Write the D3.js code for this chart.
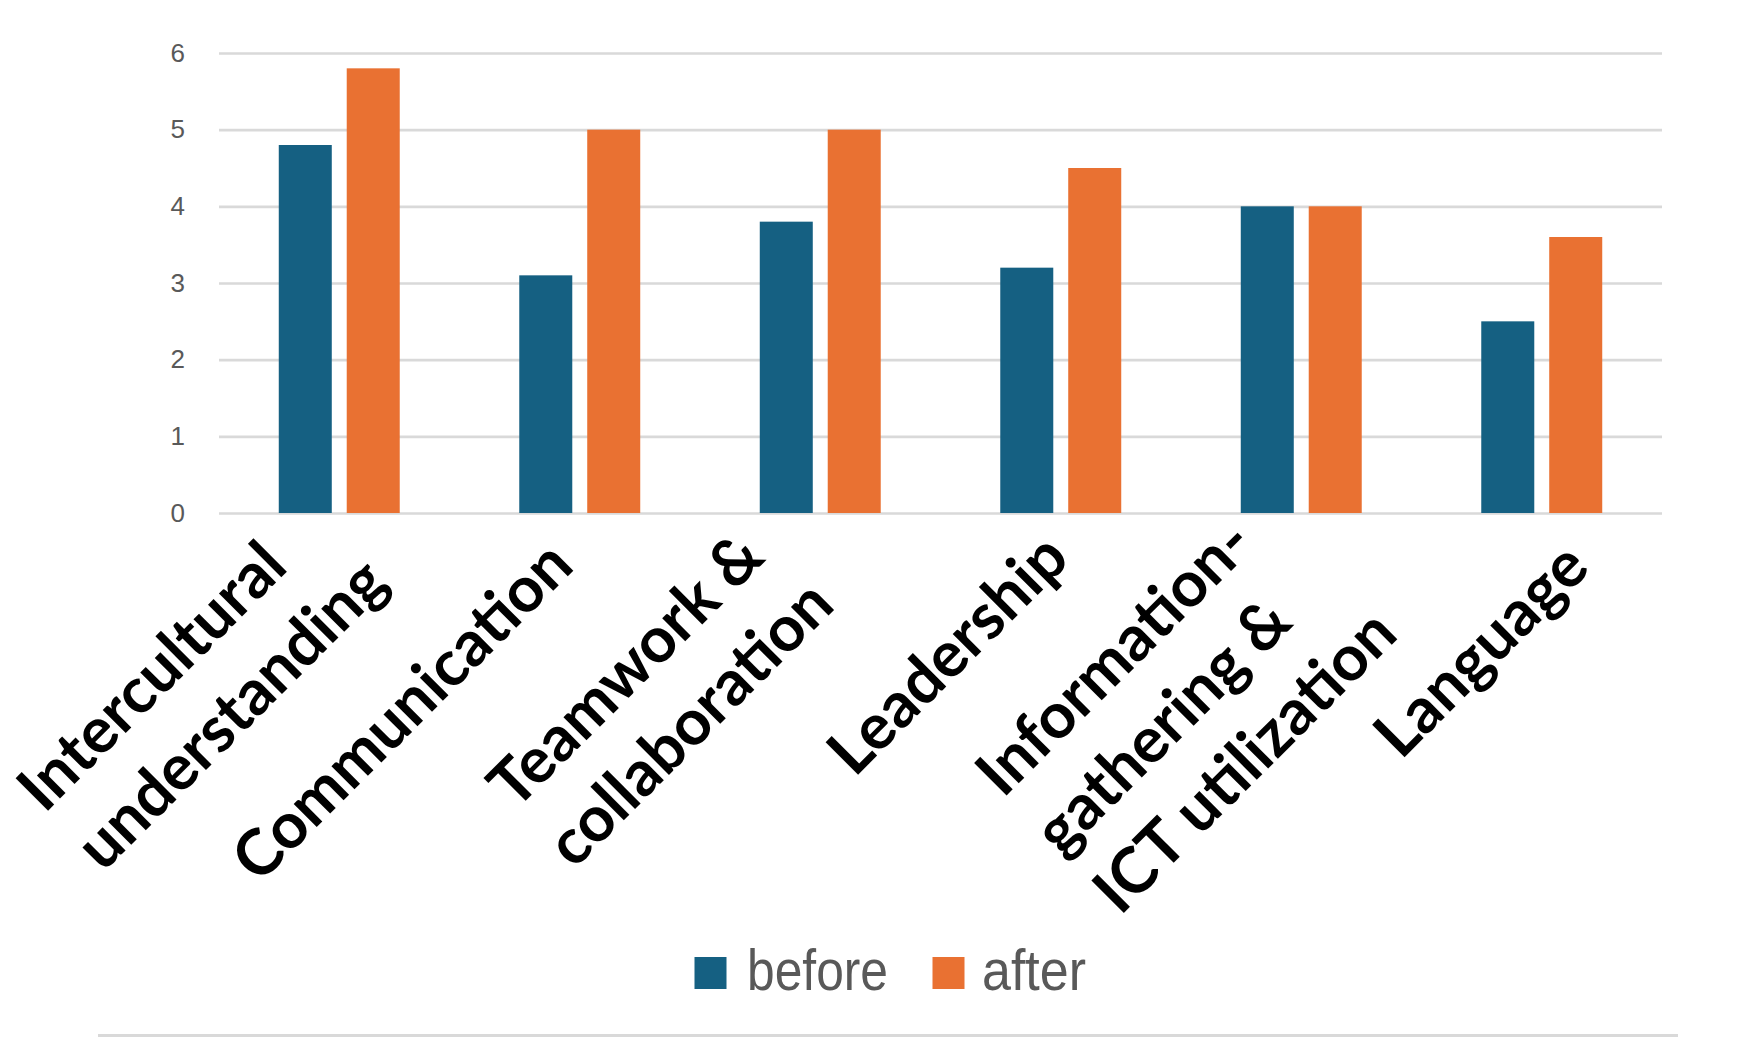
<!DOCTYPE html>
<html>
<head>
<meta charset="utf-8">
<script src="https://cdn.jsdelivr.net/npm/d3@7"></script>
<style>
  html, body { margin: 0; padding: 0; background: #ffffff; }
  svg { display: block; }
</style>
</head>
<body>
<svg id="chart" width="1752" height="1053"></svg>
<script>
// ---- data ----
const categories = [
  "Intercultural\nunderstanding",
  "Communication",
  "Teamwork &\ncollaboration",
  "Leadership",
  "Information-\ngathering &\nICT utilization",
  "Language"
];
const seriesNames = ["before", "after"];
const beforeValues = [4.8, 3.1, 3.8, 3.2, 4.0, 2.5];
const afterValues  = [5.8, 5.0, 5.0, 4.5, 4.0, 3.6];
const yTicks = [0, 1, 2, 3, 4, 5, 6];

// ---- layout ----
const W = 1752, H = 1053;
const plot = { left: 219, right: 1662, top: 53, bottom: 513 };
const colors = { before: "#156082", after: "#E97132" };
const gridColor = "#d9d9d9";
const tickColor = "#595959";
// small per-label screen nudges (label placement in the original is irregular)
const labelNudge = [[22, -9], [-4, 3], [-13, 13], [11, -4], [40, 13], [50, 5]];

const svg = d3.select("#chart");

const rows = categories.map((c, i) => ({ cat: c, before: beforeValues[i], after: afterValues[i] }));

const x0 = d3.scaleBand()
  .domain(categories)
  .range([plot.left, plot.right])
  .paddingInner(0.497)
  .paddingOuter(0.2485);

const x1 = d3.scaleBand()
  .domain(seriesNames)
  .range([0, x0.bandwidth()])
  .paddingInner(0.22);

const y = d3.scaleLinear().domain([0, 6]).range([plot.bottom, plot.top]);

// gridlines + y tick labels via axis
const yAxis = d3.axisLeft(y)
  .tickValues(yTicks)
  .tickSize(-(plot.right - plot.left))
  .tickPadding(34)
  .tickFormat(d3.format("d"));

const gAxis = svg.append("g")
  .attr("transform", `translate(${plot.left},0)`)
  .call(yAxis);
gAxis.select(".domain").remove();
gAxis.selectAll(".tick line")
  .attr("stroke", gridColor)
  .attr("stroke-width", 2.6);
gAxis.selectAll(".tick text")
  .attr("fill", tickColor)
  .attr("font-family", "'Liberation Sans', Arial, sans-serif")
  .attr("font-size", 26);

// bars
const groups = svg.append("g").selectAll("g")
  .data(rows)
  .join("g")
  .attr("transform", d => `translate(${x0(d.cat)},0)`);

groups.selectAll("rect")
  .data(d => seriesNames.map(k => ({ key: k, value: d[k] })))
  .join("rect")
  .attr("x", d => x1(d.key))
  .attr("width", x1.bandwidth())
  .attr("y", d => y(d.value))
  .attr("height", d => y(0) - y(d.value))
  .attr("fill", d => colors[d.key]);

// category labels (rotated -45, left-aligned lines, block anchored at its end)
const labelFont = "Lato, 'Open Sans', 'DejaVu Sans', sans-serif";
const probe = svg.append("text")
  .attr("font-family", labelFont).attr("font-weight", 700)
  .attr("font-size", 68).text("Communication");
const probeW = probe.node().getComputedTextLength();
probe.remove();
const labelSize = 68 * 448 / probeW;
const lineH = 83;
const anchorOff = 36.8;

const labelG = svg.append("g");
categories.forEach((cat, i) => {
  const cx = x0(cat) + x0.bandwidth() / 2 + labelNudge[i][0];
  const cy = plot.bottom + labelNudge[i][1];
  const g = labelG.append("g")
    .attr("transform", `translate(${cx},${cy}) rotate(-45)`);
  const lines = cat.split("\n");
  const t = g.append("text")
    .attr("font-family", labelFont)
    .attr("font-weight", 700)
    .attr("font-size", labelSize)
    .attr("fill", "#000000");
  const spans = lines.map((ln, j) => t.append("tspan")
    .attr("y", anchorOff + (j - (lines.length - 1) / 2) * lineH)
    .text(ln));
  const wMax = d3.max(spans, s => s.node().getComputedTextLength());
  spans.forEach(s => s.attr("x", -anchorOff - wMax));
});

// legend
const legend = svg.append("g");
const legendItems = [
  { key: "before", sq: 694.5, tx: 747, tw: 141 },
  { key: "after", sq: 932.5, tx: 982, tw: 104 }
];
legendItems.forEach(it => {
  legend.append("rect")
    .attr("x", it.sq).attr("y", 957)
    .attr("width", 32).attr("height", 32)
    .attr("fill", colors[it.key]);
  legend.append("text")
    .attr("x", it.tx).attr("y", 990)
    .attr("font-family", "'Liberation Sans Narrow', 'Liberation Sans', Arial, sans-serif")
    .attr("font-size", 57)
    .attr("fill", tickColor)
    .attr("textLength", it.tw)
    .attr("lengthAdjust", "spacingAndGlyphs")
    .text(it.key);
});

// bottom separator line
svg.append("line")
  .attr("x1", 98).attr("x2", 1678)
  .attr("y1", 1035.5).attr("y2", 1035.5)
  .attr("stroke", gridColor)
  .attr("stroke-width", 3);
</script>
</body>
</html>
